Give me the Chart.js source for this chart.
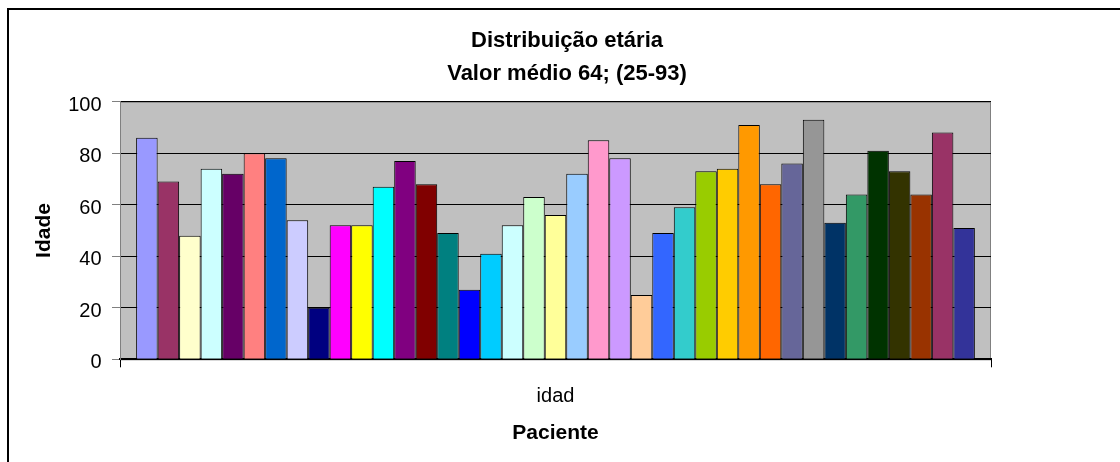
<!DOCTYPE html>
<html>
<head>
<meta charset="utf-8">
<script src="https://cdn.jsdelivr.net/npm/chart.js@4/dist/chart.umd.min.js"></script>
<style>
  html, body { margin: 0; padding: 0; background: #fff; }
  canvas { display: block; }
</style>
</head>
<body>
<canvas id="c" width="1120" height="462"></canvas>
<script>
const categories = ['idad'];
const patients = ['1','2','3','4','5','6','7','8','9','10','11','12','13','14','15','16','17','18','19','20',
  '21','22','23','24','25','26','27','28','29','30','31','32','33','34','35','36','37','38','39'];
const ages = [86,69,48,74,72,80,78,54,20,52,52,67,77,68,49,27,41,52,63,56,
  72,85,78,25,49,59,73,74,91,68,76,93,53,64,81,73,64,88,51];
const colors = ['#9999FF','#993366','#FFFFCC','#CCFFFF','#660066','#FF8080','#0066CC','#CCCCFF','#000080','#FF00FF',
  '#FFFF00','#00FFFF','#800080','#800000','#008080','#0000FF','#00CCFF','#CCFFFF','#CCFFCC','#FFFF99',
  '#99CCFF','#FF99CC','#CC99FF','#FFCC99','#3366FF','#33CCCC','#99CC00','#FFCC00','#FF9900','#FF6600',
  '#666699','#969696','#003366','#339966','#003300','#333300','#993300','#993366','#333399'];
const yTicks = [0,20,40,60,80,100];
const titleLines = ['Distribuição etária','Valor médio 64; (25-93)'];
const yTitle = 'Idade';
const xTitle = 'Paciente';

const FONT = "'Liberation Sans', Arial, sans-serif";

const datasets = ages.map((v, i) => ({
  label: patients[i],
  data: [v],
  backgroundColor: colors[i],
  borderColor: '#000000',
  borderWidth: 1,
  barPercentage: 1,
  categoryPercentage: ages.length / (ages.length + 1.5)
}));

const plotBg = {
  id: 'plotBg',
  beforeDraw(chart) {
    const ctx = chart.ctx;
    const a = chart.chartArea;
    ctx.save();
    ctx.fillStyle = '#000';
    ctx.fillRect(7, 8, chart.width, 2);
    ctx.fillRect(7, 8, 2, chart.height);
    ctx.fillStyle = '#C0C0C0';
    ctx.fillRect(a.left, a.top, a.right - a.left, a.bottom - a.top);
    ctx.strokeStyle = '#808080';
    ctx.lineWidth = 1;
    ctx.strokeRect(a.left + 0.5, a.top + 0.5, a.right - a.left - 1, a.bottom - a.top);
    ctx.restore();
  }
};

new Chart(document.getElementById('c'), {
  type: 'bar',
  data: { labels: categories, datasets },
  plugins: [plotBg],
  options: {
    responsive: false,
    animation: false,
    devicePixelRatio: 1,
    layout: { padding: { left: 14, right: 0, top: 0, bottom: 0 } },
    plugins: {
      legend: { display: false },
      tooltip: { enabled: false },
      title: {
        display: true,
        text: titleLines,
        color: '#000',
        font: { family: FONT, size: 22, weight: 'bold', lineHeight: 1.5 },
        padding: { top: 24, bottom: 11.7 }
      }
    },
    scales: {
      x: {
        grid: { display: true, drawOnChartArea: false, offset: true, color: '#000', tickColor: '#000', tickLength: 8 },
        border: { display: true, color: '#000', width: 2 },
        ticks: { color: '#000', font: { family: FONT, size: 20 }, padding: 17 },
        title: { display: true, text: xTitle, color: '#000', font: { family: FONT, size: 21, weight: 'bold' }, padding: { top: 0, bottom: 16.5 } },
        afterFit(s) { s.height = 102.7; }
      },
      y: {
        min: 0, max: 100,
        afterBuildTicks(s) { s.ticks = yTicks.map(v => ({ value: v })); },
        grid: { color: '#000', tickColor: '#808080', tickLength: 8, lineWidth: 1 },
        border: { display: true, color: '#808080', width: 1 },
        ticks: { color: '#000', font: { family: FONT, size: 20 }, padding: 10.5, labelOffset: 3.5 },
        title: { display: true, text: yTitle, color: '#000', font: { family: FONT, size: 21, weight: 'bold' }, padding: { top: 18, bottom: 0 } },
        afterFit(s) { s.width = 106; }
      },
      yRight: {
        position: 'right',
        display: true,
        grid: { display: false },
        border: { display: false },
        ticks: { display: false },
        afterFit(s) { s.width = 129; }
      }
    }
  }
});
</script>
</body>
</html>
